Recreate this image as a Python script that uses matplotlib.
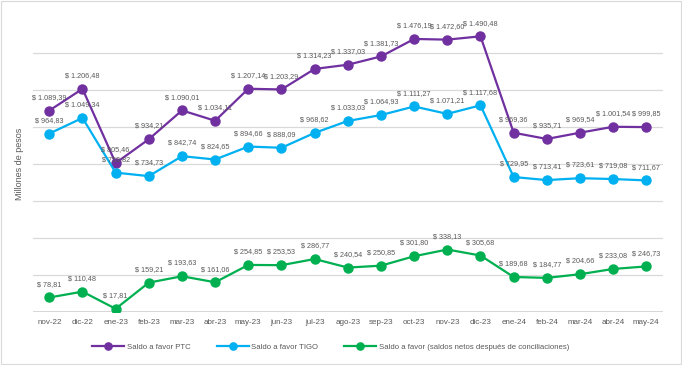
import numpy as np
import matplotlib.pyplot as plt
from matplotlib.patches import Rectangle

meses = ["nov-22", "dic-22", "ene-23", "feb-23", "mar-23", "abr-23", "may-23", "jun-23",
         "jul-23", "ago-23", "sep-23", "oct-23", "nov-23", "dic-23", "ene-24", "feb-24",
         "mar-24", "abr-24", "may-24"]

saldo_ptc = [1089.39, 1206.48, 805.46, 934.21, 1090.01, 1034.11, 1207.14, 1203.29, 1314.23,
             1337.03, 1381.73, 1476.19, 1472.60, 1490.48, 969.36, 935.71, 969.54, 1001.54, 999.85]
saldo_tigo = [964.83, 1049.34, 753.82, 734.73, 842.74, 824.65, 894.66, 888.09, 968.62,
              1033.03, 1064.93, 1111.27, 1071.21, 1117.68, 729.95, 713.41, 723.61, 719.08, 711.67]
saldo_neto = [78.81, 110.48, 17.81, 159.21, 193.63, 161.06, 254.85, 253.53, 286.77,
              240.54, 250.85, 301.80, 338.13, 305.68, 189.68, 184.77, 204.66, 233.08, 246.73]

series = [
    ("Saldo a favor PTC", saldo_ptc, "#7030A0"),
    ("Saldo a favor TIGO", saldo_tigo, "#00B0F0"),
    ("Saldo a favor (saldos netos después de conciliaciones)", saldo_neto, "#00B050"),
]


def fmt(v):
    # formato "$ 1.089,39"
    s = f"{v:,.2f}".replace(",", "X").replace(".", ",").replace("X", ".")
    return "$ " + s


plt.rcParams["font.family"] = ["Liberation Sans", "DejaVu Sans"]

fig = plt.figure(figsize=(6.82, 3.65), dpi=100)
ax = fig.add_axes([0.048, 0.145, 0.924, 0.811])

x = np.arange(len(meses))
for label, vals, color in series:
    ax.plot(x, vals, color=color, lw=1.6, marker="o", markersize=6.5, label=label, zorder=3)
    for xi, v in zip(x, vals):
        ax.annotate(fmt(v), (xi, v), xytext=(0, 7), textcoords="offset points",
                    ha="center", va="bottom", fontsize=5.2, color="#595959", zorder=4)

ax.set_xlim(-0.5, len(meses) - 0.5)
ax.set_ylim(0, 1600)
for gy in range(200, 1600, 200):
    ax.axhline(gy, color="#D9D9D9", lw=0.9, zorder=1)
ax.axhline(0, color="#D0D0D0", lw=1.2, zorder=1)

ax.set_xticks(x)
ax.set_xticklabels(meses, fontsize=5.8, color="#595959")
ax.set_yticks([])
ax.tick_params(axis="x", length=0, pad=5)
for sp in ax.spines.values():
    sp.set_visible(False)
ax.set_ylabel("Millones de pesos", fontsize=6.5, color="#595959", labelpad=6)

fig.legend(loc="lower center", bbox_to_anchor=(0.485, 0.02), ncol=3, frameon=False,
           fontsize=5.6, labelcolor="#595959", handlelength=4.1, handletextpad=0.3,
           columnspacing=3.4, markerscale=0.8)

fig.patches.append(Rectangle((0.002, 0.003), 0.996, 0.994, transform=fig.transFigure,
                             fill=False, edgecolor="#D9D9D9", lw=0.8))

fig.savefig("out.png", dpi=100)
